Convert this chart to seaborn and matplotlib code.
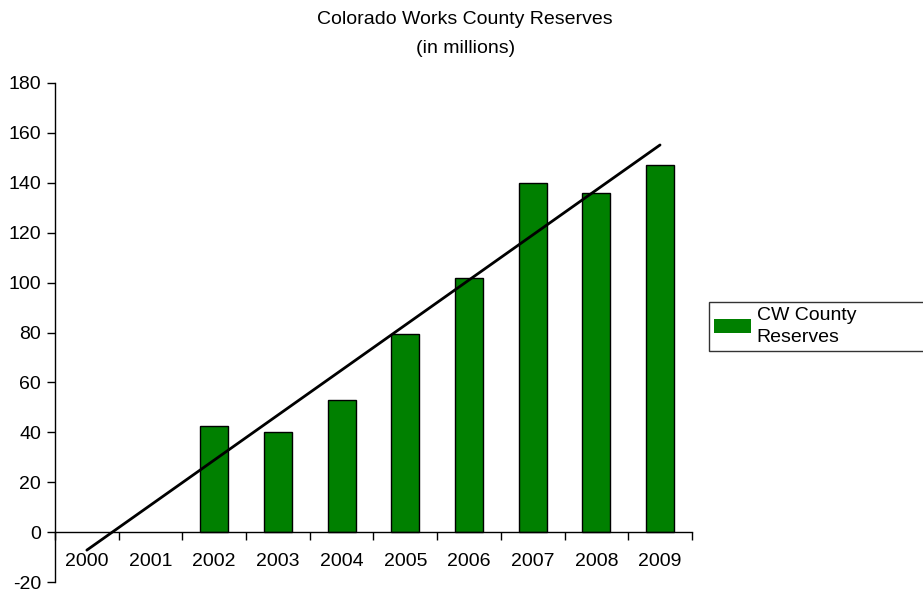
import numpy as np
import pandas as pd
import matplotlib
matplotlib.use('Agg')
import matplotlib.pyplot as plt
import seaborn as sns

# data
years = ['2000', '2001', '2002', '2003', '2004', '2005', '2006', '2007', '2008', '2009']
reserves = [0, 0, 42.5, 40, 53, 79.5, 102, 140, 136, 147]
y_ticks = [-20, 0, 20, 40, 60, 80, 100, 120, 140, 160, 180]

df = pd.DataFrame({'year': years, 'reserves': reserves})

sns.set_style('white')
plt.rcParams['font.family'] = ['Liberation Sans', 'DejaVu Sans']
plt.rcParams['axes.unicode_minus'] = False
plt.rcParams['text.color'] = 'black'
plt.rcParams['xtick.color'] = 'black'
plt.rcParams['ytick.color'] = 'black'
fs = 14

fig = plt.figure(figsize=(9.23, 5.92), dpi=100)
ax = fig.add_axes([0.0596, 0.0165, 0.69, 0.8435])

sns.barplot(data=df, x='year', y='reserves', color='#008000', saturation=1,
            width=0.44, edgecolor='black', linewidth=1, ax=ax,
            label='CW County\nReserves')
# empty years show no outline
for bar, v in zip(ax.patches, reserves):
    if v == 0:
        bar.set_linewidth(0)

# linear trend line fitted to the values
xs = np.arange(len(years))
slope, intercept = np.polyfit(xs, reserves, 1)
ax.plot(xs, slope * xs + intercept, color='black', lw=2)

ax.set_xlim(-0.5, len(years) - 0.5)
ax.set_ylim(-20, 180)
ax.set_yticks(y_ticks)
ax.tick_params(axis='y', length=6, width=1, direction='out', left=True,
               labelsize=fs, pad=4)

ax.spines['top'].set_visible(False)
ax.spines['right'].set_visible(False)
ax.spines['bottom'].set_position(('data', 0))
for s in ['left', 'bottom']:
    ax.spines[s].set_color('black')
    ax.spines[s].set_linewidth(1)

# ticks at category boundaries, labels at centers
ax.set_xticks(np.arange(-0.5, len(years), 1.0))
ax.set_xticklabels([])
ax.tick_params(axis='x', which='major', length=6, width=1, direction='out', bottom=True)
ax.set_xticks(xs, minor=True)
ax.set_xticklabels(years, minor=True)
ax.tick_params(axis='x', which='minor', length=0, labelsize=fs, pad=15)
ax.set_xlabel('')
ax.set_ylabel('')

fig.text(0.504, 0.981, 'Colorado Works County Reserves\n(in millions)',
         ha='center', va='top', fontsize=fs, linespacing=1.9)

handles, labels = ax.get_legend_handles_labels()
if ax.legend_:
    ax.legend_.remove()
leg = fig.legend(handles, labels, loc='upper left',
                 bbox_to_anchor=(709 / 923, 1 - 302 / 592, 0.25, 0.0),
                 mode='expand', fontsize=fs, fancybox=False, frameon=True,
                 edgecolor='black', borderpad=0.25, handlelength=1.9,
                 handleheight=0.7, handletextpad=0.3, borderaxespad=0)
leg.get_frame().set_linewidth(1)
for t in leg.get_texts():
    t.set_linespacing(1.4)

fig.savefig('out.png', dpi=100)
